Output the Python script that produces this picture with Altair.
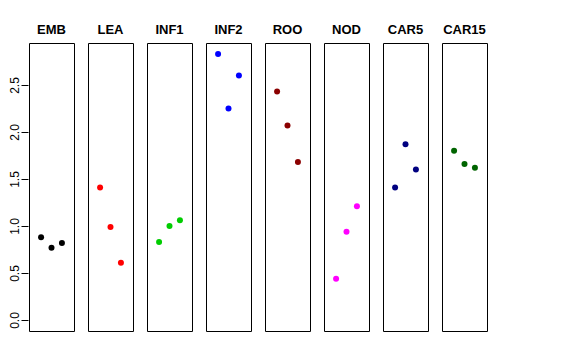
import altair as alt
import pandas as pd

groups = ["EMB", "LEA", "INF1", "INF2", "ROO", "NOD", "CAR5", "CAR15"]
colors = ["#000000", "#FF0000", "#00CD00", "#0000FF", "#8B0000", "#FF00FF", "#000080", "#006400"]
positions = [1, 2, 3]
values = {
    "EMB": [0.88, 0.77, 0.82],
    "LEA": [1.41, 0.99, 0.61],
    "INF1": [0.83, 1.00, 1.06],
    "INF2": [2.83, 2.25, 2.60],
    "ROO": [2.43, 2.07, 1.68],
    "NOD": [0.44, 0.94, 1.21],
    "CAR5": [1.41, 1.87, 1.60],
    "CAR15": [1.80, 1.66, 1.62],
}
y_ticks = [0.0, 0.5, 1.0, 1.5, 2.0, 2.5]

rows = []
for g in groups:
    for p, v in zip(positions, values[g]):
        rows.append({"group": g, "pos": p, "value": v})
df = pd.DataFrame(rows)

base = alt.Chart(df).mark_circle(size=36, opacity=1).encode(
    x=alt.X("pos:Q", scale=alt.Scale(domain=[-0.16, 4.16], nice=False, zero=False), axis=None),
    y=alt.Y(
        "value:Q",
        scale=alt.Scale(domain=[-0.117, 2.947], nice=False, zero=False),
        axis=alt.Axis(
            title=None, values=y_ticks, format=".1f", grid=False, domain=False,
            tickSize=7, tickColor="#000000", labelAngle=270, labelAlign="center",
            labelBaseline="bottom", labelPadding=0, labelFontSize=12,
            labelFont="Liberation Sans", labelColor="#000000",
        ),
    ),
    color=alt.Color("group:N", scale=alt.Scale(domain=groups, range=colors), legend=None),
).properties(width=45, height=288)

chart = base.facet(
    column=alt.Column(
        "group:N", sort=groups,
        header=alt.Header(
            title=None, labelFontWeight="bold", labelFontSize=13,
            labelFont="Liberation Sans", labelColor="#000000", labelPadding=5,
        ),
    ),
    spacing=12,
).properties(
    padding={"top": 16, "left": 0, "right": 0, "bottom": 0},
    background="white",
).configure_view(
    stroke="#000000", strokeWidth=1
)

chart.save("out.html", embed_options={"renderer": "svg", "actions": False})
